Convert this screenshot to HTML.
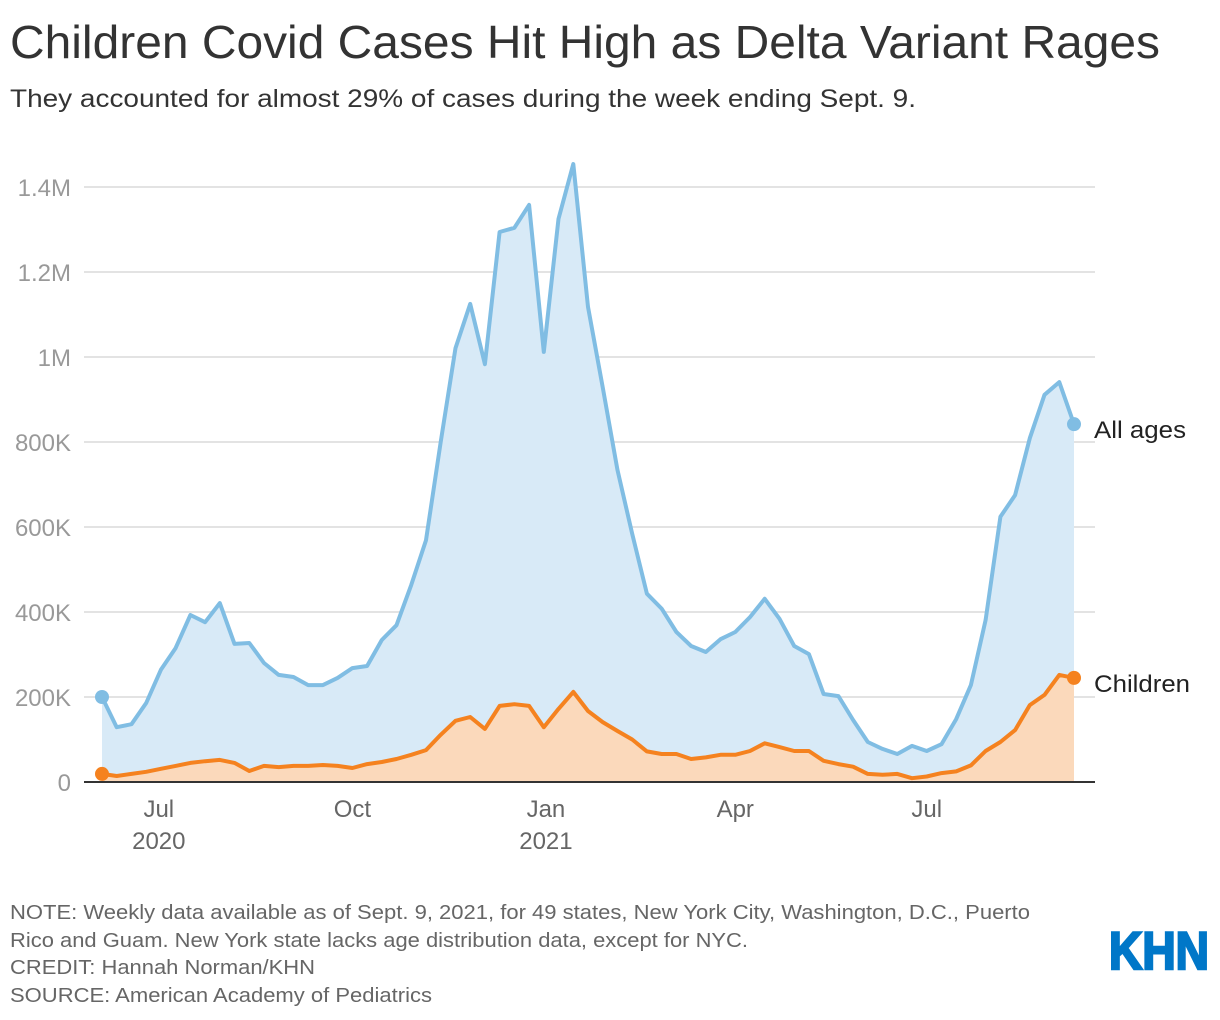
<!DOCTYPE html>
<html><head><meta charset="utf-8">
<style>
html,body{margin:0;padding:0;background:#fff;}
svg{display:block;font-family:"Liberation Sans",Arial,sans-serif;}
</style></head>
<body>
<svg id="chart" width="1220" height="1020" viewBox="0 0 1220 1020">
<text x="10" y="58" font-size="46" fill="#333" textLength="1150" lengthAdjust="spacingAndGlyphs">Children Covid Cases Hit High as Delta Variant Rages</text>
<text x="10" y="107" font-size="25" fill="#333" textLength="906" lengthAdjust="spacingAndGlyphs">They accounted for almost 29% of cases during the week ending Sept. 9.</text>
<g id="grid"></g>
<g id="yticks"></g>
<g id="series"></g>
<line x1="84" y1="782" x2="1095" y2="782" stroke="#333" stroke-width="2"/>
<g id="xticks"></g>
<text x="1094" y="438" font-size="24" fill="#222" textLength="92" lengthAdjust="spacingAndGlyphs">All ages</text>
<text x="1094" y="692" font-size="24" fill="#222" textLength="96" lengthAdjust="spacingAndGlyphs">Children</text>
<g font-size="20" fill="#666">
<text x="10" y="919" textLength="1020" lengthAdjust="spacingAndGlyphs">NOTE: Weekly data available as of Sept. 9, 2021, for 49 states, New York City, Washington, D.C., Puerto</text>
<text x="10" y="947" textLength="738" lengthAdjust="spacingAndGlyphs">Rico and Guam. New York state lacks age distribution data, except for NYC.</text>
<text x="10" y="974" textLength="305" lengthAdjust="spacingAndGlyphs">CREDIT: Hannah Norman/KHN</text>
<text x="10" y="1002" textLength="422" lengthAdjust="spacingAndGlyphs">SOURCE: American Academy of Pediatrics</text>
</g>
<text x="1109" y="969" font-size="53" font-weight="bold" fill="#0077c8" stroke="#0077c8" stroke-width="2.5" textLength="100" lengthAdjust="spacingAndGlyphs">KHN</text>
</svg>
<script>
// Weekly values (thousands), week 0 = 2020-06-04
const allAges = [200,129,136,186,264,315,393,376,421,325,327,280,252,247,228,228,245,268,273,334,369,464,569,800,1021,1125,983,1294,1304,1358,1012,1325,1454,1118,929,734,584,443,408,353,320,306,336,353,388,431,384,320,301,207,202,146,94,78,66,85,73,89,148,228,381,624,675,809,911,941,842];
const children = [19,14,19,24,31,38,45,49,52,45,26,38,35,38,38,40,38,33,42,47,54,64,75,111,144,153,125,179,183,179,129,172,212,167,141,120,100,72,66,66,54,58,64,64,73,91,82,73,73,50,42,36,19,17,19,9,13,21,25,39,73,94,122,181,205,252,245];
const yTickValues = [0,200,400,600,800,1000,1200,1400];
const yTickLabels = ["0","200K","400K","600K","800K","1M","1.2M","1.4M"];
const xTickDays = [27,119,211,301,392]; // days since 2020-06-04
const xTickLabels = ["Jul","Oct","Jan","Apr","Jul"];
const yearDays = [27,211];
const yearLabels = ["2020","2021"];

const NS="http://www.w3.org/2000/svg";
const x0=102, x1=1074, y0=782, yTop=187, nWeeks=allAges.length-1;
const xWeek=i=>x0+(x1-x0)*i/nWeeks;
const xDay=d=>x0+(x1-x0)*d/(nWeeks*7);
const yV=v=>y0-(y0-yTop)*v/1400;
function mk(tag,attrs,parent){const e=document.createElementNS(NS,tag);for(const k in attrs)e.setAttribute(k,attrs[k]);parent.appendChild(e);return e;}

const grid=document.getElementById('grid'),yt=document.getElementById('yticks');
yTickValues.forEach((v,i)=>{
  if(v>0){const l=mk('line',{x1:84,x2:1095,y1:yV(v),y2:yV(v),stroke:'#e3e3e3','stroke-width':2},grid);
  
  }
  const t=mk('text',{x:71,y:yV(v)+9,'font-size':24,fill:'#999','text-anchor':'end'},yt);
  t.textContent=yTickLabels[i];
  
  
});
const xt=document.getElementById('xticks');
xTickDays.forEach((d,i)=>{
  const t=mk('text',{x:xDay(d),y:817,'font-size':24,fill:'#666','text-anchor':'middle'},xt);
  t.textContent=xTickLabels[i];
  
  
});
yearDays.forEach((d,i)=>{
  const t=mk('text',{x:xDay(d),y:849,'font-size':24,fill:'#666','text-anchor':'middle'},xt);
  t.textContent=yearLabels[i];
  
  
});

const s=document.getElementById('series');
function draw(vals,fill,stroke,name){
  const pts=vals.map((v,i)=>xWeek(i).toFixed(1)+','+yV(v).toFixed(1));
  const a=mk('path',{d:'M'+xWeek(0)+','+y0+' L'+pts.join(' L')+' L'+xWeek(nWeeks)+','+y0+' Z',fill:fill},s);
  
  
  const l=mk('path',{d:'M'+pts.join(' L'),fill:'none',stroke:stroke,'stroke-width':4,'stroke-linejoin':'round'},s);
  
  
  const c1=mk('circle',{cx:xWeek(0),cy:yV(vals[0]),r:7,fill:stroke},s);
  
  
  const c2=mk('circle',{cx:xWeek(nWeeks),cy:yV(vals[nWeeks]),r:7,fill:stroke},s);
  
  
}
draw(allAges,'#d8eaf7','#80bde3','all-ages');
draw(children,'#fbd9bb','#f5821f','children');
</script>
</body></html>
